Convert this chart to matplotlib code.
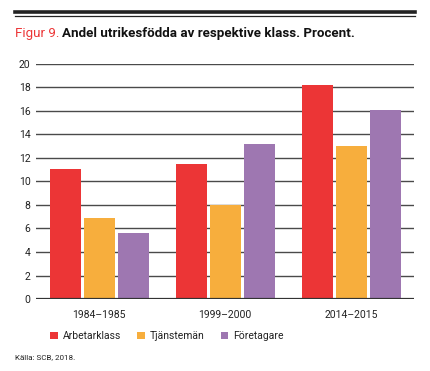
import numpy as np
import matplotlib
matplotlib.use("Agg")
import matplotlib.pyplot as plt
from matplotlib.patches import Patch
from matplotlib.lines import Line2D

# Data (percent)
periods = ["1984\u20131985", "1999\u20132000", "2014\u20132015"]
classes = ["Arbetarklass", "Tjänstemän", "Företagare"]
arbetarklass = [11.1, 11.5, 18.2]
tjanstemen = [6.9, 8.0, 13.0]
foretagare = [5.6, 13.2, 16.1]
colors = ["#ec3536", "#f7ae3d", "#9e77b1"]
yticks = list(range(0, 21, 2))

plt.rcParams["font.family"] = ["Roboto", "DejaVu Sans"]

fig = plt.figure(figsize=(4.30, 3.71), dpi=100)
ax = fig.add_axes([36 / 430, 1 - 299 / 371, 378 / 430, 235 / 371])

x = np.arange(len(periods))
width = 31 / 126
step = 34 / 126
for i, (vals, col) in enumerate(zip([arbetarklass, tjanstemen, foretagare], colors)):
    ax.bar(x + (i - 1) * step, vals, width=width, color=col, zorder=3, label=classes[i])

ax.set_xlim(-0.5, 2.5)
ax.set_ylim(0, 20)
ax.set_yticks(yticks)
for t in yticks[1:]:
    ax.axhline(t, color="#4a4a4a", lw=1.0, zorder=1)
ax.axhline(0, color="#333333", lw=1.6, zorder=4)

ax.set_xticks(x)
ax.set_xticklabels(periods)
ax.tick_params(axis="both", length=0, labelsize=7.5, colors="#222222")
ax.tick_params(axis="x", pad=8)
ax.tick_params(axis="y", pad=4)
for s in ax.spines.values():
    s.set_visible(False)

# rules at the top
fig.add_artist(Line2D([15 / 430, 415 / 430], [1 - 11.7 / 371] * 2, color="#222222", lw=2.6))
fig.add_artist(Line2D([15 / 430, 415 / 430], [1 - 15.8 / 371] * 2, color="#222222", lw=0.9))

# title: red label + bold black text
t1 = fig.text(15 / 430, 1 - 33 / 371, "Figur 9.", color="#ec3536", fontsize=9.6, va="center")
fig.canvas.draw()
bb = t1.get_window_extent()
fig.text((bb.x1 + 3) / 430, 1 - 33 / 371, "Andel utrikesfödda av respektive klass. Procent.",
         color="#111111", fontsize=9.6, fontweight="bold", va="center")

handles = [Patch(facecolor=c, edgecolor="none") for c in colors]
fig.legend(handles, classes, loc="center left", bbox_to_anchor=(46 / 430, 1 - 336 / 371), ncol=3,
           frameon=False, fontsize=7.5, handlelength=0.75, handleheight=0.75, handletextpad=0.5,
           columnspacing=1.5, borderaxespad=0, labelcolor="#222222")

fig.text(15 / 430, 1 - 357 / 371, "Källa: SCB, 2018.", fontsize=5.8, color="#222222", va="center")

fig.savefig("out.png", dpi=100)
